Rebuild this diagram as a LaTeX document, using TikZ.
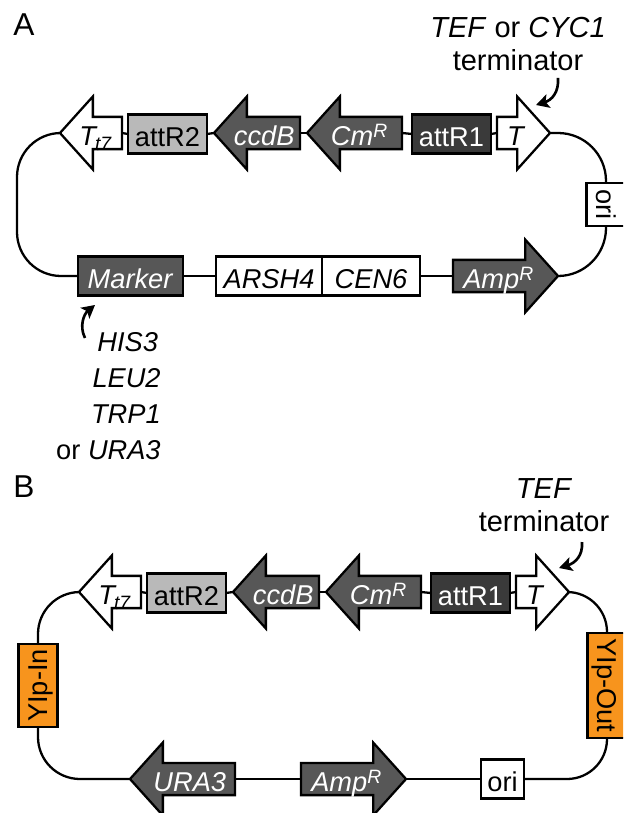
\documentclass[tikz,border=0pt]{standalone}
\usepackage{fontspec}
\setmainfont{Liberation Sans}
\usetikzlibrary{arrows.meta, shapes.arrows}
\definecolor{darkgene}{HTML}{575757}
\definecolor{darkatt}{HTML}{3A3A3A}
\definecolor{lightatt}{HTML}{B9B9B9}
\definecolor{yiporange}{HTML}{F7941D}
\newcommand{\pxu}{0.02cm}
\newcommand{\supR}{\raisebox{0.27em}{\fontsize{11}{12}\selectfont\textit{R}}}
\newcommand{\subT}{\kern-1.5pt\raisebox{-0.2em}{\fontsize{11}{12}\selectfont\textit{t7}}\kern3pt}
\tikzset{
  every node/.style={inner sep=0pt, font=\fontsize{15.5}{20.4}\selectfont},
  part/.style={draw, line width=1.3pt, outer sep=0pt, text height=14pt, text depth=0pt, align=center},
  boxpart/.style={part, minimum height=39*\pxu, minimum width=#1*\pxu},
  sidepart/.style={boxpart=#1, text height=11pt},
  gene/.style={part, single arrow, single arrow head extend=17*\pxu, single arrow tip angle=96,
    minimum width=73*\pxu, minimum height=#1*\pxu, anchor=tail},
  geneleft/.style={gene=#1, shape border rotate=180},
  dark/.style={fill=darkgene, text=white},
  wire/.style={line width=1.3pt},
  note/.style={line width=1.5pt, -{Stealth[length=13*\pxu, width=14*\pxu, inset=3*\pxu]}},
  bigtext/.style={font=\fontsize{16.5}{18.8}\selectfont},
}
\begin{document}
\begin{tikzpicture}[x=0.02cm, y=-0.02cm]
\useasboundingbox (0,0) rectangle (623,813);
\clip (0,0) rectangle (623,813);

\node[font=\fontsize{18}{20}\selectfont] (labela) at (24,25) {A};
\node[font=\fontsize{18}{20}\selectfont] (labelb) at (24,487) {B};

\foreach \p/\dx/\dy in {a/0/0, b/19/459} {
\begin{scope}[shift={(\dx,\dy)}]
\node[geneleft=62] (tt\p) at (122,133) {\textit{T}\subT};
\node[boxpart=79, fill=lightatt] (attrtwo\p) at (167.5,134) {attR2};
\node[geneleft=86, dark] (ccdb\p) at (300,133) {\textit{ccdB}};
\node[geneleft=95, dark] (cm\p) at (402,133) {\textit{Cm}\supR\kern3pt};
\node[boxpart=79, fill=darkatt, text=white] (attrone\p) at (451.5,134) {attR1};
\node[gene=53] (term\p) at (497,133) {\textit{T}};
\draw[wire] (tt\p.tail) -- (attrtwo\p.west);
\draw[wire] (attrtwo\p.east) -- (ccdb\p.tip);
\draw[wire] (ccdb\p.tail) -- (cm\p.tip);
\draw[wire] (cm\p.tail) -- (attrone\p.west);
\draw[wire] (attrone\p.east) -- (term\p.tail);
\end{scope}
}

% panel A
\node[boxpart=105, dark] (marker) at (130.5,276) {\textit{Marker}};
\node[boxpart=106, fill=white] (arsh) at (269,276) {\textit{ARSH4}};
\node[boxpart=98, fill=white] (cen) at (371,276) {\textit{CEN6}};
\node[gene=105, dark] (ampa) at (453,276) {\textit{Amp}\supR};
\node[sidepart=38, fill=white, rotate=-90, minimum width=43*\pxu] (oria) at (606,204.5) {ori};
\coordinate (lefta) at (17,204);
\draw[wire, rounded corners=0.88cm] (tta.tip) -| (lefta);
\draw[wire, rounded corners=0.88cm] (lefta) |- (marker.west);
\draw[wire] (marker.east) -- (arsh.west);
\draw[wire] (cen.east) -- (ampa.tail);
\draw[wire, rounded corners=0.96cm] (terma.tip) -| (oria.west);
\draw[wire, rounded corners=0.96cm] (oria.east) |- (ampa.tip);

\node[bigtext, align=center] (terminfoa) at (518,44) {\textit{TEF} or \textit{CYC1}\\terminator};
\coordinate (notestarta) at (558,78);
\coordinate (noteenda) at (536,105);
\draw[note] (notestarta) .. controls (559,92) and (552,100) .. (noteenda);

\node[align=right, anchor=north east] (markerinfo) at (161,332.5) {\textit{HIS3}\kern1.5pt\\\textit{LEU2}\\\textit{TRP1}\\or \textit{URA3}};
\coordinate (notestartm) at (85,338);
\coordinate (noteendm) at (95,305);
\draw[note] (notestartm) .. controls (79,326) and (84,314) .. (noteendm);

% panel B
\node[sidepart=40, fill=yiporange, rotate=90, minimum width=83*\pxu] (yipin) at (38,685.5) {YIp-In};
\node[sidepart=40, fill=yiporange, rotate=-90, minimum width=105*\pxu] (yipout) at (607,685.5) {YIp-Out};
\node[geneleft=105, dark] (ura) at (235,779) {\textit{URA3}};
\node[gene=105, dark] (ampb) at (301,779) {\textit{Amp}\supR};
\node[boxpart=43, fill=white] (orib) at (502.5,779) {ori};
\draw[wire, rounded corners=0.84cm] (ttb.tip) -| (yipin.east);
\draw[wire, rounded corners=0.84cm] (yipin.west) |- (ura.tip);
\draw[wire] (ura.tail) -- (ampb.tail);
\draw[wire] (ampb.tip) -- (orib.west);
\draw[wire, rounded corners=0.8cm] (orib.east) -| (yipout.east);
\draw[wire, rounded corners=0.8cm] (termb.tip) -| (yipout.west);

\node[bigtext, align=center] (terminfob) at (544,505) {\textit{TEF}\\terminator};
\coordinate (notestartb) at (582,542);
\coordinate (noteendb) at (559,568);
\draw[note] (notestartb) .. controls (583,556) and (575,563) .. (noteendb);
\end{tikzpicture}
\end{document}
